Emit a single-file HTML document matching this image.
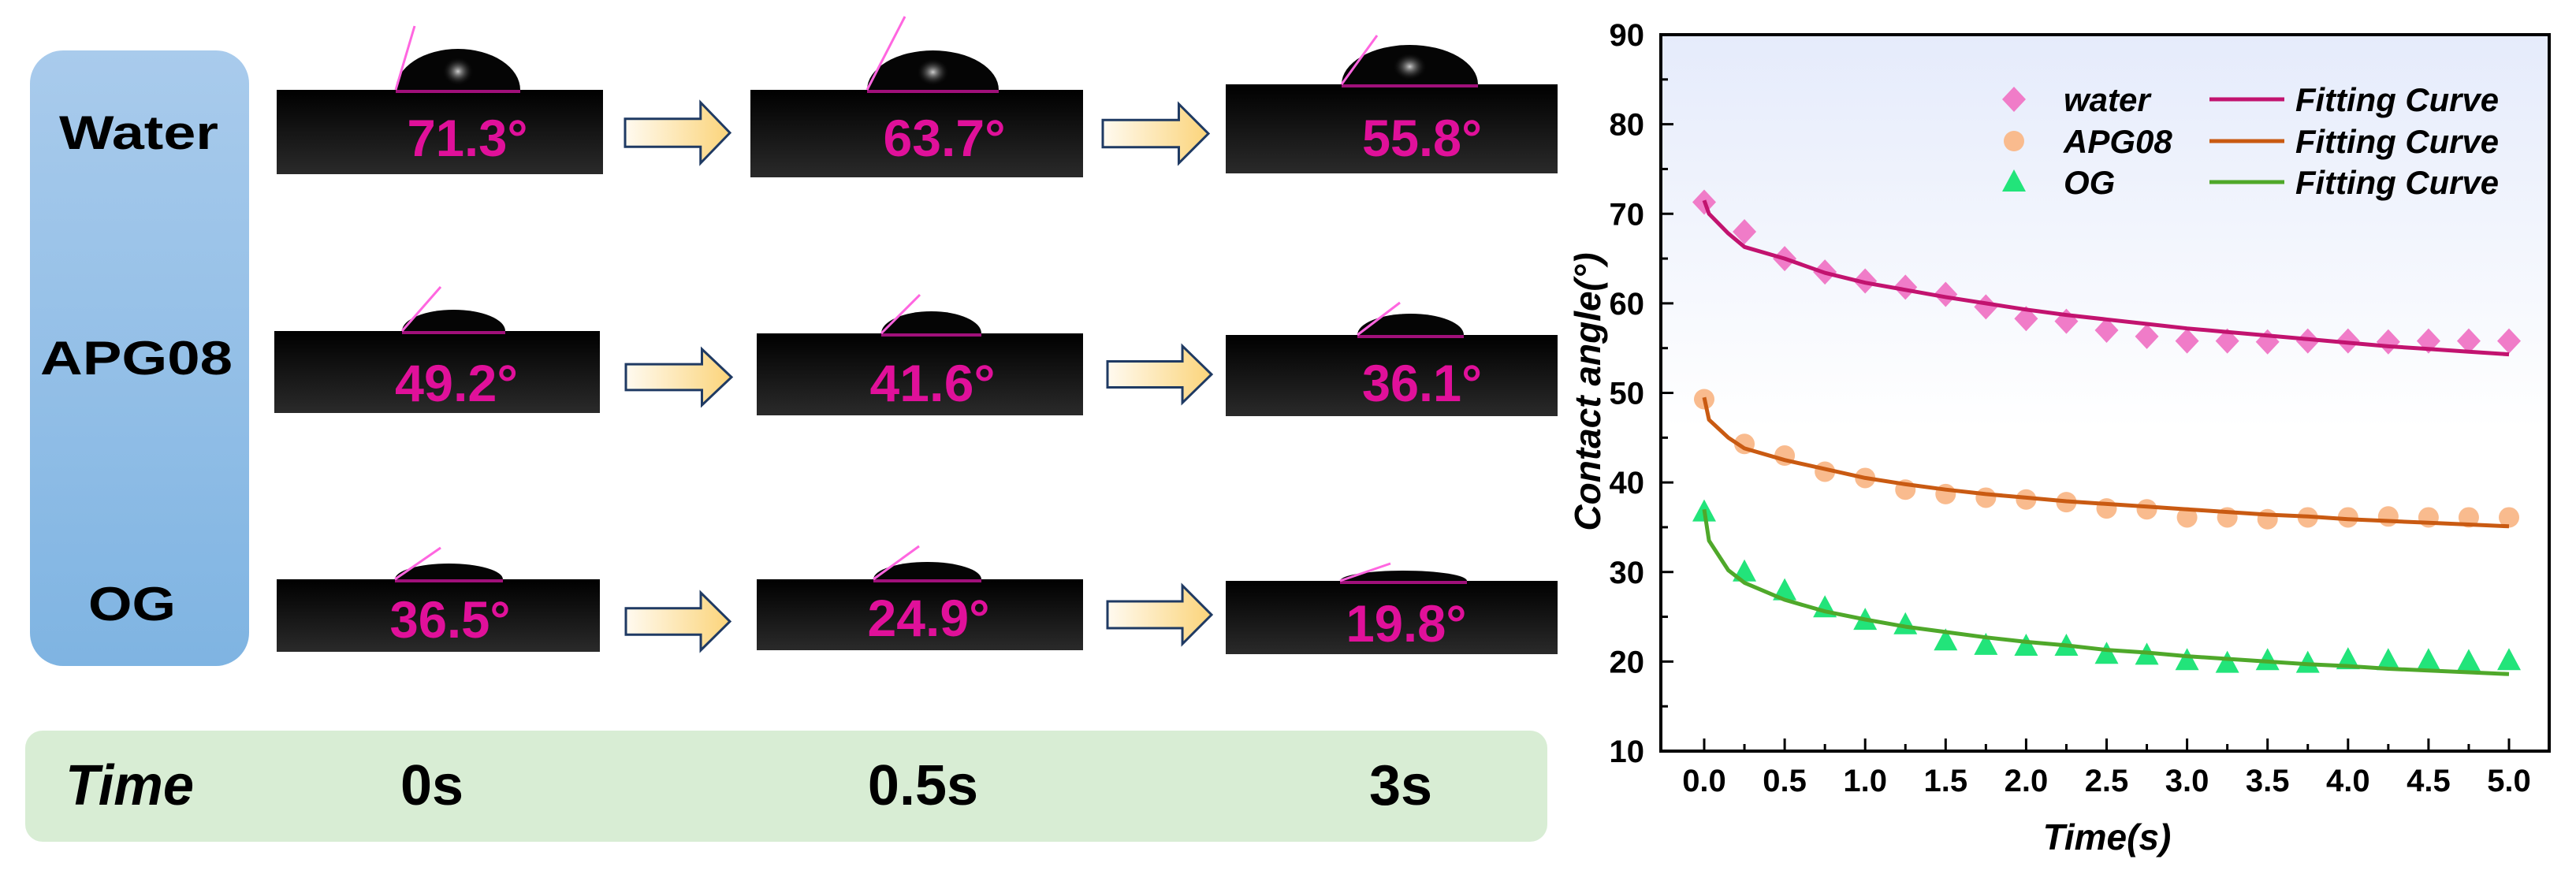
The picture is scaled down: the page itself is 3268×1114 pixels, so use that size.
<!DOCTYPE html>
<html><head><meta charset="utf-8"><style>
html,body{margin:0;padding:0;background:#fff;width:3268px;height:1114px;overflow:hidden}
svg{display:block}
text{font-family:"Liberation Sans",Arial,sans-serif;font-weight:bold}
</style></head><body>
<svg id="root" width="3268" height="1114" viewBox="0 0 3268 1114" xmlns="http://www.w3.org/2000/svg">
<defs>
<linearGradient id="blueG" x1="0" y1="0" x2="0" y2="1"><stop offset="0" stop-color="#a9cbec"/><stop offset="1" stop-color="#7fb4e2"/></linearGradient>
<linearGradient id="arrowG" x1="0" y1="0" x2="1" y2="0"><stop offset="0" stop-color="#fffaf0"/><stop offset="1" stop-color="#fbd47a"/></linearGradient>
<linearGradient id="plotG" x1="0" y1="0" x2="0" y2="1"><stop offset="0" stop-color="#e5ebfb"/><stop offset="0.55" stop-color="#ffffff"/><stop offset="1" stop-color="#ffffff"/></linearGradient>
<linearGradient id="floorG" x1="0" y1="0" x2="0" y2="1"><stop offset="0" stop-color="#000"/><stop offset="1" stop-color="#2a2a2a"/></linearGradient>
<radialGradient id="hiG"><stop offset="0" stop-color="#fff"/><stop offset="1" stop-color="#000" stop-opacity="0"/></radialGradient>
</defs>
<rect x="38" y="64" width="278" height="781" rx="42" fill="url(#blueG)"/>
<text x="75" y="189" font-size="60" textLength="202" lengthAdjust="spacingAndGlyphs">Water</text>
<text x="51" y="475" font-size="60" textLength="244" lengthAdjust="spacingAndGlyphs">APG08</text>
<text x="112" y="787" font-size="60" textLength="111" lengthAdjust="spacingAndGlyphs">OG</text>
<rect x="32" y="927" width="1931" height="141" rx="22" fill="#d8edd4"/>
<text x="83" y="1021" font-size="72" font-style="italic" textLength="163" lengthAdjust="spacingAndGlyphs">Time</text>
<text x="548" y="1021" font-size="72" text-anchor="middle">0s</text>
<text x="1171" y="1021" font-size="72" text-anchor="middle">0.5s</text>
<text x="1777" y="1021" font-size="72" text-anchor="middle">3s</text>
<g id="pics"></g>
<g id="chart"></g>
</svg>
<script>
const NS='http://www.w3.org/2000/svg';
function mk(tag,attrs,parent){const e=document.createElementNS(NS,tag);for(const k in attrs)e.setAttribute(k,attrs[k]);parent.appendChild(e);return e;}
// ---- droplet photos (illustrations, not chart data) ----
const pics=[
 {x:351,y:114,w:414,h:107,bx1:502,bx2:660,apex:62,tx:526,ty:33,label:'71.3°',lx:593,ly:198,lw:153},
 {x:952,y:114,w:422,h:111,bx1:1100,bx2:1267,apex:64,tx:1148,ty:21,label:'63.7°',lx:1198,ly:198,lw:155},
 {x:1555,y:107,w:421,h:113,bx1:1702,bx2:1875,apex:57,tx:1747,ty:45,label:'55.8°',lx:1804,ly:198,lw:152},
 {x:348,y:420,w:413,h:104,bx1:510,bx2:641,apex:393,tx:559,ty:364,label:'49.2°',lx:579,ly:509,lw:156},
 {x:960,y:423,w:414,h:104,bx1:1118,bx2:1245,apex:395,tx:1167,ty:374,label:'41.6°',lx:1183,ly:509,lw:159},
 {x:1555,y:425,w:421,h:103,bx1:1722,bx2:1857,apex:398,tx:1776,ty:384,label:'36.1°',lx:1804,ly:509,lw:152},
 {x:351,y:735,w:410,h:92,bx1:501,bx2:638,apex:715,tx:559,ty:695,label:'36.5°',lx:571,ly:809,lw:153},
 {x:960,y:735,w:414,h:90,bx1:1108,bx2:1245,apex:713,tx:1166,ty:693,label:'24.9°',lx:1178,ly:807,lw:155},
 {x:1555,y:737,w:421,h:93,bx1:1700,bx2:1861,apex:724,tx:1764,ty:715,label:'19.8°',lx:1784,ly:814,lw:153}
];
const arrows=[[793,130,133,77],[1399,132,134,75],[794,443,134,71],[1405,439,132,72],[794,752,132,73],[1405,743,132,74]];
const pg=document.getElementById('pics');
pics.forEach((p,i)=>{
  const g=mk('g',{},pg);
  
  
  mk('rect',{x:p.x,y:p.y,width:p.w,height:p.h,fill:'url(#floorG)'},g);
  const cx=(p.bx1+p.bx2)/2, rx=(p.bx2-p.bx1)/2, ry=p.y-p.apex;
  mk('path',{d:`M${p.bx1},${p.y} A${rx},${ry} 0 0 1 ${p.bx2},${p.y} Z`,fill:'#050505'},g);
  if(ry>35) mk('ellipse',{cx:cx,cy:p.y-ry*0.45,rx:rx*0.25,ry:ry*0.35,fill:'url(#hiG)',opacity:0.8},g);
  mk('line',{x1:p.bx1,y1:p.y+2,x2:p.bx2,y2:p.y+2,stroke:'#a0107a','stroke-width':4},g);
  mk('line',{x1:p.bx1,y1:p.y,x2:p.tx,y2:p.ty,stroke:'#ff66e0','stroke-width':3},g);
  const t=mk('text',{x:p.lx,y:p.ly,'font-size':66,fill:'#e0109a','text-anchor':'middle',textLength:p.lw,lengthAdjust:'spacingAndGlyphs'},g);
  t.textContent=p.label;
  
  
});
arrows.forEach((a,i)=>{
  const [x,y,w,h]=a; const hx=x+w*0.72; const b1=y+h*0.27,b2=y+h*0.73;
  const pth=mk('polygon',{points:`${x},${b1} ${hx},${b1} ${hx},${y} ${x+w},${y+h/2} ${hx},${y+h} ${hx},${b2} ${x},${b2}`,fill:'url(#arrowG)',stroke:'#1f3a63','stroke-width':3},pg);
  
  
});

// ---- chart data ----
const timeX=[0,0.25,0.5,0.75,1,1.25,1.5,1.75,2,2.25,2.5,2.75,3,3.25,3.5,3.75,4,4.25,4.5,4.75,5];
const waterY=[71.3,68,65,63.5,62.5,61.8,61,59.6,58.3,58,57,56.3,55.8,55.8,55.7,55.8,55.8,55.7,55.8,55.8,55.8];
const apgY=[49.3,44.3,43,41.2,40.5,39.2,38.7,38.3,38.1,37.8,37.1,37.0,36.1,36.1,35.9,36.1,36.1,36.2,36.1,36.1,36.1];
const ogY=[36.7,30,27.9,26,24.6,24.1,22.3,21.8,21.7,21.7,20.8,20.7,20.1,19.8,20.1,19.8,20.2,20.1,20.1,20.0,20.1];
const fitX=[0,0.03,0.15,0.25,0.5,0.75,1,1.25,1.5,1.75,2,2.25,2.5,2.75,3,3.25,3.5,3.75,4,4.25,4.5,4.75,5];
const waterFit=[71.5,70,67.8,66.3,65,63.4,62.3,61.5,60.7,60,59.3,58.7,58.2,57.7,57.2,56.8,56.4,56,55.6,55.2,54.9,54.6,54.3];
const apgFit=[49.5,47,45,43.8,42.5,41.5,40.5,39.8,39.2,38.7,38.3,37.9,37.6,37.3,37.0,36.7,36.4,36.2,35.9,35.7,35.5,35.3,35.1];
const ogFit=[37,33.5,30.2,28.8,26.9,25.6,24.7,23.9,23.3,22.7,22.2,21.8,21.3,21.0,20.6,20.3,20.0,19.7,19.5,19.2,19.0,18.8,18.6];
const yTicks=[10,20,30,40,50,60,70,80,90];
const xTicks=[0,0.5,1,1.5,2,2.5,3,3.5,4,4.5,5];
const xTickLabels=['0.0','0.5','1.0','1.5','2.0','2.5','3.0','3.5','4.0','4.5','5.0'];

const L=2107,R=3234,T=44,B=953;
const sx=v=>2162+v*204.2;
const sy=v=>B-(v-10)*(B-T)/80;
const ch=document.getElementById('chart');
const bg=mk('rect',{x:L,y:T,width:R-L,height:B-T,fill:'url(#plotG)'},ch);


yTicks.forEach(v=>{
  mk('line',{x1:L,y1:sy(v),x2:L+16,y2:sy(v),stroke:'#000','stroke-width':3},ch);
  if(v<90) mk('line',{x1:L,y1:sy(v+5),x2:L+9,y2:sy(v+5),stroke:'#000','stroke-width':3},ch);
  const t=mk('text',{x:2086,y:sy(v)+14,'font-size':40,'text-anchor':'end'},ch);
  t.textContent=v;
  
  
});
xTicks.forEach((v,i)=>{
  mk('line',{x1:sx(v),y1:B,x2:sx(v),y2:B-16,stroke:'#000','stroke-width':3},ch);
  if(v<5) mk('line',{x1:sx(v+0.25),y1:B,x2:sx(v+0.25),y2:B-9,stroke:'#000','stroke-width':3},ch);
  const t=mk('text',{x:sx(v),y:1004,'font-size':40,'text-anchor':'middle'},ch);
  t.textContent=xTickLabels[i];
  
  
});
const fr=mk('rect',{x:L,y:T,width:R-L,height:B-T,fill:'none',stroke:'#000','stroke-width':4},ch);


const xt=mk('text',{x:2673,y:1078,'font-size':46,'font-style':'italic','text-anchor':'middle'},ch);
xt.textContent='Time(s)';


const yt=mk('text',{x:0,y:0,'font-size':46,'font-style':'italic','text-anchor':'middle',transform:'translate(2030,497) rotate(-90)'},ch);
yt.textContent='Contact angle(°)';



function curve(xs,ys,color,name){
  const d=xs.map((x,i)=>(i?'L':'M')+sx(x).toFixed(1)+','+sy(ys[i]).toFixed(1)).join(' ');
  const p=mk('path',{d:d,fill:'none',stroke:color,'stroke-width':5,'stroke-linejoin':'round'},ch);
  
  
}
function marker(shape,x,y,color,g){
  if(shape==='diamond') return mk('polygon',{points:`${x},${y-16} ${x+15},${y} ${x},${y+16} ${x-15},${y}`,fill:color},g);
  if(shape==='circle') return mk('circle',{cx:x,cy:y,r:13,fill:color},g);
  return mk('polygon',{points:`${x},${y-16} ${x+15},${y+12} ${x-15},${y+12}`,fill:color},g);
}
function points(ys,shape,color,name){
  const g=mk('g',{},ch);
  
  
  timeX.forEach((x,i)=>{
    const m=marker(shape,sx(x),sy(ys[i]),color,g);
    
    
  });
}
const wc='#f07cc8',wl='#c2136f',ac='#f9bb8e',al='#c95a12',oc='#22e47a',ol='#4fa82a';
points(waterY,'diamond',wc,'water-series');
points(apgY,'circle',ac,'apg08-series');
points(ogY,'triangle',oc,'og-series');
curve(fitX,waterFit,wl,'water-fit-curve');
curve(fitX,apgFit,al,'apg08-fit-curve');
curve(fitX,ogFit,ol,'og-fit-curve');

// legend
const legRows=[['water','diamond',wc,wl,126],['APG08','circle',ac,al,179],['OG','triangle',oc,ol,231]];
legRows.forEach(r=>{
  const g=mk('g',{},ch);
  
  
  marker(r[1],2555,r[4],r[2],g);
  const t=mk('text',{x:2618,y:r[4]+15,'font-size':42,'font-style':'italic'},g);
  t.textContent=r[0];
  mk('line',{x1:2803,y1:r[4],x2:2898,y2:r[4],stroke:r[3],'stroke-width':5},g);
  const t2=mk('text',{x:2912,y:r[4]+15,'font-size':42,'font-style':'italic',textLength:258,lengthAdjust:'spacingAndGlyphs'},g);
  t2.textContent='Fitting Curve';
});
</script>
</body></html>
